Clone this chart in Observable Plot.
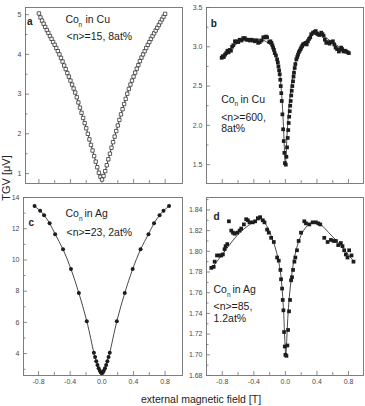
<!DOCTYPE html>
<html>
<head>
<meta charset="utf-8">
<script src="https://cdn.jsdelivr.net/npm/d3@7"></script>
<script src="https://cdn.jsdelivr.net/npm/@observablehq/plot@0.6"></script>
<style>
  html, body { margin: 0; padding: 0; background: #fff; }
  #chart { position: relative; width: 365px; height: 406px; overflow: hidden;
           font-family: "Liberation Sans", Arial, sans-serif; color: #222; }
  #chart > svg { position: absolute; }
  .title { position: absolute; white-space: nowrap; font-size: 10.5px; line-height: 1; color: #222; }
  .ytitle { font-size: 11px; transform: translate(-50%, -50%) rotate(-90deg); }
  .xtitle { transform: translate(-50%, -50%); }
</style>
</head>
<body>
<div id="chart"></div>
<script>
// Panel a: Co_n in Cu, <n>=15 (open squares, joined)
const fieldA = [-0.80,-0.78,-0.76,-0.74,-0.72,-0.70,-0.68,-0.66,-0.64,-0.62,-0.60,-0.58,-0.56,-0.54,-0.52,-0.50,-0.48,-0.46,-0.44,-0.42,-0.40,-0.38,-0.36,-0.34,-0.32,-0.30,-0.28,-0.26,-0.24,-0.22,-0.20,-0.18,-0.16,-0.14,-0.12,-0.10,-0.08,-0.06,-0.04,-0.02,0,
  0.02,0.04,0.06,0.08,0.10,0.12,0.14,0.16,0.18,0.20,0.22,0.24,0.26,0.28,0.30,0.32,0.34,0.36,0.38,0.40,0.42,0.44,0.46,0.48,0.50,0.52,0.54,0.56,0.58,0.60,0.62,0.64,0.66,0.68,0.70,0.72,0.74,0.76,0.78,0.80];
const signalA = [5.03,4.93,4.85,4.77,4.69,4.61,4.54,4.46,4.39,4.31,4.24,4.16,4.08,4.00,3.91,3.82,3.72,3.63,3.53,3.44,3.34,3.24,3.14,3.04,2.92,2.79,2.66,2.53,2.40,2.27,2.14,2.00,1.86,1.72,1.58,1.44,1.30,1.16,1.02,0.92,0.85,
  0.94,1.06,1.21,1.36,1.50,1.65,1.79,1.93,2.07,2.21,2.35,2.49,2.62,2.75,2.88,3.01,3.13,3.24,3.34,3.44,3.54,3.64,3.73,3.83,3.92,4.00,4.08,4.16,4.24,4.31,4.39,4.46,4.53,4.60,4.67,4.74,4.81,4.88,4.95,5.02];

// Panel b: Co_n in Cu, <n>=600 (filled squares + fit)
const fieldB = [-0.808,-0.795,-0.780,-0.765,-0.750,-0.735,-0.720,-0.705,-0.690,-0.675,-0.660,-0.640,-0.625,-0.610,-0.598,-0.580,-0.556,-0.535,-0.514,-0.495,-0.475,-0.451,-0.430,-0.410,-0.387,-0.365,-0.345,-0.325,-0.303,-0.280,-0.261,-0.245,-0.232,-0.205,-0.190,-0.177,-0.165,-0.156,-0.145,-0.135,-0.120,-0.105,-0.096,-0.088,-0.080,-0.072,-0.065,-0.059,-0.052,-0.046,-0.038,-0.029,-0.021,-0.013,-0.006,
  0.005,0.013,0.021,0.029,0.036,0.042,0.048,0.055,0.061,0.067,0.074,0.080,0.088,0.097,0.103,0.109,0.118,0.126,0.139,0.150,0.160,0.170,0.181,0.192,0.202,0.213,0.223,0.240,0.257,0.270,0.286,0.300,0.315,0.328,0.350,0.371,0.385,0.400,0.413,0.430,0.455,0.470,0.484,0.500,0.518,0.540,0.560,0.580,0.602,0.620,0.636,0.655,0.678,0.690,0.707,0.720,0.737,0.755,0.770,0.787,0.804];
const signalB = [2.86,2.88,2.87,2.90,2.92,2.95,2.93,2.96,2.95,3.00,3.02,3.07,3.06,3.07,3.06,3.09,3.08,3.11,3.11,3.09,3.09,3.08,3.09,3.08,3.07,3.08,3.05,3.06,3.08,3.12,3.12,3.13,3.12,3.06,3.07,3.05,3.02,2.99,2.96,2.92,2.89,2.84,2.80,2.75,2.70,2.65,2.58,2.50,2.41,2.31,2.14,1.95,1.80,1.65,1.52,
  1.50,1.60,1.72,1.84,1.94,2.03,2.11,2.18,2.25,2.31,2.38,2.44,2.50,2.56,2.62,2.67,2.73,2.78,2.84,2.87,2.90,2.93,2.95,2.97,2.99,3.01,3.03,3.04,3.05,3.03,3.07,3.10,3.12,3.16,3.18,3.19,3.20,3.17,3.16,3.15,3.18,3.16,3.14,3.09,3.05,3.06,3.04,3.06,3.07,3.03,2.99,2.97,2.94,2.96,2.99,2.97,2.94,2.95,2.94,2.93,2.92];
const fitFieldB = [-0.81,-0.70,-0.60,-0.50,-0.40,-0.30,-0.22,-0.16,-0.12,-0.09,-0.07,-0.05,-0.035,-0.02,-0.008,0,0.008,0.02,0.035,0.05,0.07,0.09,0.12,0.16,0.22,0.30,0.38,0.46,0.55,0.65,0.80];
const fitSignalB = [2.87,2.97,3.05,3.09,3.10,3.09,3.05,2.98,2.89,2.77,2.64,2.43,2.20,1.88,1.60,1.50,1.60,1.86,2.10,2.28,2.46,2.60,2.76,2.90,3.02,3.12,3.16,3.15,3.09,3.02,2.92];

// Panel c: Co_n in Ag, <n>=23 (filled circles, smooth line)
const fieldC = [-0.85,-0.78,-0.73,-0.66,-0.59,-0.49,-0.39,-0.29,-0.19,-0.10,-0.085,-0.07,-0.055,-0.04,-0.025,-0.012,0,
  0.012,0.025,0.04,0.055,0.07,0.085,0.10,0.19,0.29,0.39,0.49,0.59,0.66,0.73,0.78,0.85];
const signalC = [13.45,13.15,12.87,12.35,11.65,10.68,9.42,7.88,6.08,4.05,3.78,3.52,3.28,3.06,2.90,2.79,2.75,
  2.79,2.90,3.06,3.28,3.52,3.78,4.05,6.08,7.88,9.42,10.68,11.65,12.35,12.87,13.15,13.45];

// Panel d: Co_n in Ag, <n>=85 (filled squares + fit)
const fieldD = [-0.939,-0.909,-0.897,-0.867,-0.834,-0.813,-0.792,-0.771,-0.758,-0.737,-0.716,-0.686,-0.665,-0.644,-0.611,-0.581,-0.560,-0.526,-0.497,-0.476,-0.455,-0.413,-0.383,-0.349,-0.320,-0.286,-0.265,-0.232,-0.211,-0.181,-0.147,-0.105,-0.084,-0.063,-0.055,-0.042,-0.034,-0.025,-0.017,-0.008,0,
  0.013,0.025,0.034,0.046,0.059,0.072,0.084,0.097,0.114,0.126,0.147,0.168,0.198,0.240,0.261,0.303,0.345,0.387,0.417,0.442,0.493,0.535,0.577,0.611,0.640,0.669,0.703,0.724,0.745,0.766,0.787,0.808,0.838,0.863];
const signalD = [1.784,1.785,1.790,1.796,1.796,1.796,1.797,1.802,1.805,1.807,1.829,1.820,1.818,1.817,1.818,1.820,1.822,1.826,1.831,1.830,1.828,1.828,1.829,1.832,1.833,1.830,1.828,1.821,1.818,1.813,1.809,1.794,1.791,1.782,1.773,1.764,1.753,1.743,1.722,1.708,1.700,
  1.699,1.709,1.724,1.742,1.753,1.772,1.775,1.782,1.790,1.794,1.801,1.810,1.818,1.829,1.827,1.826,1.828,1.828,1.827,1.826,1.813,1.809,1.811,1.810,1.810,1.806,1.808,1.805,1.801,1.797,1.794,1.801,1.796,1.790];
const fitFieldD = [-0.94,-0.85,-0.75,-0.65,-0.55,-0.45,-0.37,-0.30,-0.24,-0.18,-0.13,-0.09,-0.06,-0.04,-0.02,-0.008,0.005,0.018,0.03,0.05,0.08,0.12,0.17,0.23,0.30,0.38,0.46,0.55,0.65,0.75,0.86];
const fitSignalD = [1.783,1.792,1.802,1.812,1.820,1.826,1.830,1.830,1.825,1.815,1.804,1.792,1.778,1.762,1.738,1.715,1.700,1.716,1.735,1.756,1.777,1.796,1.810,1.820,1.826,1.828,1.825,1.818,1.810,1.801,1.791];

// Tick values
const xMajorTicks = [-0.8, -0.4, 0, 0.4, 0.8];
const xMinorTicks = [-0.6, -0.2, 0.2, 0.6];
const yMajorA = [1, 2, 3, 4, 5], yMinorA = [1.5, 2.5, 3.5, 4.5];
const yMajorB = [1.5, 2.0, 2.5, 3.0, 3.5], yMinorB = [1.75, 2.25, 2.75, 3.25];
const yMajorC = [4, 6, 8, 10, 12, 14], yMinorC = [3, 5, 7, 9, 11, 13];
const yMajorD = [1.68, 1.70, 1.72, 1.74, 1.76, 1.78, 1.80, 1.82, 1.84];
const yMinorD = [1.69, 1.71, 1.73, 1.75, 1.77, 1.79, 1.81, 1.83, 1.85];

// Panel annotations
const notesA = ["a", "Co", "n", "in Cu", "<n>=15, 8at%"];
const notesB = ["b", "Co", "n", "in Cu", "<n>=600,", "8at%"];
const notesC = ["c", "Co", "n", "in Ag", "<n>=23, 2at%"];
const notesD = ["d", "Co", "n", "in Ag", "<n>=85,", "1.2at%"];

const AXIS = "#707070";
const LABEL = "#4a4a4a";
const INK = "#1c1c1c";
const FONT = "'Liberation Sans', Arial, sans-serif";

function panel(o) {
  const fw = o.width - o.ml - o.mr;
  const fh = o.height - o.mt - o.mb;
  const pts = o.field.map((x, i) => ({x, y: o.signal[i]}));
  const marks = [
    Plot.tickX(xMajorTicks, {x: d => d, insetTop: fh - 4, stroke: AXIS, strokeWidth: 0.8}),
    Plot.tickX(xMinorTicks, {x: d => d, insetTop: fh - 3, stroke: AXIS, strokeWidth: 0.8}),
    Plot.tickY(o.yMajor, {y: d => d, insetRight: fw - 4, stroke: AXIS, strokeWidth: 0.8}),
    Plot.tickY(o.yMinor, {y: d => d, insetRight: fw - 2.5, stroke: AXIS, strokeWidth: 0.8}),
    Plot.axisY(o.yMajor, {anchor: "left", tickSize: 0, tickPadding: 4, tickFormat: o.yFormat,
      fontSize: 7, color: LABEL, label: null})
  ];
  if (o.xLabels) {
    marks.push(Plot.axisX(xMajorTicks, {anchor: "bottom", tickSize: 0, tickPadding: 4,
      tickFormat: d => d.toFixed(1), fontSize: 7, color: LABEL, label: null}));
  }
  if (o.fitField) {
    const fit = o.fitField.map((x, i) => ({x, y: o.fitSignal[i]}));
    marks.push(Plot.line(fit, {x: "x", y: "y", curve: "catmull-rom", stroke: INK, strokeWidth: 0.8}));
  } else {
    marks.push(Plot.line(pts, {x: "x", y: "y", curve: o.curve, stroke: INK, strokeWidth: 0.8}));
  }
  marks.push(Plot.dot(pts, {x: "x", y: "y", symbol: o.symbol, r: o.r, fill: o.fill,
    stroke: o.stroke, strokeWidth: 0.7}));
  marks.push(Plot.frame({stroke: AXIS, strokeWidth: 0.9}));
  o.notes.forEach((t, i) => {
    const p = o.notePos[i];
    marks.push(Plot.text([t], {text: d => d, frameAnchor: "top-left", dx: p[0], dy: p[1],
      textAnchor: "start", lineAnchor: "middle", fontSize: p[2], fontWeight: p[3] || "normal", fill: INK}));
  });
  const svg = Plot.plot({
    width: o.width, height: o.height,
    marginLeft: o.ml, marginRight: o.mr, marginTop: o.mt, marginBottom: o.mb,
    x: {domain: o.xDomain, axis: null, label: null},
    y: {domain: o.yDomain, axis: null, label: null},
    style: {background: "transparent", overflow: "visible", fontFamily: FONT},
    marks
  });
  svg.style.left = o.left + "px";
  svg.style.top = o.top + "px";
  return svg;
}

const chart = document.getElementById("chart");

chart.append(panel({
  left: 0, top: 0, width: 190, height: 192, ml: 25, mr: 8, mt: 7, mb: 9,
  field: fieldA, signal: signalA, curve: "linear",
  xDomain: [-0.97, 1.02], yDomain: [0.75, 5.18],
  yMajor: yMajorA, yMinor: yMinorA, yFormat: d => String(d), xLabels: false,
  symbol: "square", r: 1.9, fill: "white", stroke: INK,
  notes: notesA,
  notePos: [[1.5, 14.7, 10, "bold"], [40, 12, 10.5], [53, 17.5, 6.5], [60, 12, 10.5], [41, 28.7, 10.5]]
}));

chart.append(panel({
  left: 182, top: 0, width: 183, height: 192, ml: 24, mr: 2, mt: 7, mb: 9,
  field: fieldB, signal: signalB, fitField: fitFieldB, fitSignal: fitSignalB,
  xDomain: [-1.0, 0.99], yDomain: [1.26, 3.5],
  yMajor: yMajorB, yMinor: yMinorB, yFormat: d => d.toFixed(1), xLabels: false,
  symbol: "square", r: 2.1, fill: INK, stroke: "none",
  notes: notesB,
  notePos: [[4.3, 16.3, 10, "bold"], [14.7, 92, 10.5], [28, 96.5, 6.5], [34, 92, 10.5], [14.7, 109.7, 10.5], [14.7, 121.5, 10.5]]
}));

chart.append(panel({
  left: 0, top: 190, width: 190, height: 200, ml: 23, mr: 8, mt: 7, mb: 15,
  field: fieldC, signal: signalC, curve: "catmull-rom",
  xDomain: [-0.99, 1.02], yDomain: [2.6, 14],
  yMajor: yMajorC, yMinor: yMinorC, yFormat: d => String(d), xLabels: true,
  symbol: "circle", r: 2, fill: INK, stroke: "none",
  notes: notesC,
  notePos: [[4.9, 25.3, 10, "bold"], [42, 16.3, 10.5], [55.4, 21, 6.5], [61, 16.3, 10.5], [43, 34.7, 10.5]]
}));

chart.append(panel({
  left: 182, top: 190, width: 183, height: 200, ml: 24, mr: 2, mt: 7, mb: 15,
  field: fieldD, signal: signalD, fitField: fitFieldD, fitSignal: fitSignalD,
  xDomain: [-1.0, 0.99], yDomain: [1.68, 1.852],
  yMajor: yMajorD, yMinor: yMinorD, yFormat: d => d.toFixed(2), xLabels: true,
  symbol: "square", r: 2.1, fill: INK, stroke: "none",
  notes: notesD,
  notePos: [[7, 19, 10, "bold"], [7, 92.3, 10.5], [20.4, 97, 6.5], [26, 92.3, 10.5], [7, 109, 10.5], [7, 121.3, 10.5]]
}));

// Shared axis titles
const yTitle = document.createElement("div");
yTitle.className = "title ytitle";
yTitle.textContent = "TGV [\u03bcV]";
yTitle.style.left = "6px";
yTitle.style.top = "178px";
chart.append(yTitle);

const xTitle = document.createElement("div");
xTitle.className = "title xtitle";
xTitle.textContent = "external magnetic field [T]";
xTitle.style.left = "201px";
xTitle.style.top = "399px";
chart.append(xTitle);
</script>
</body>
</html>
